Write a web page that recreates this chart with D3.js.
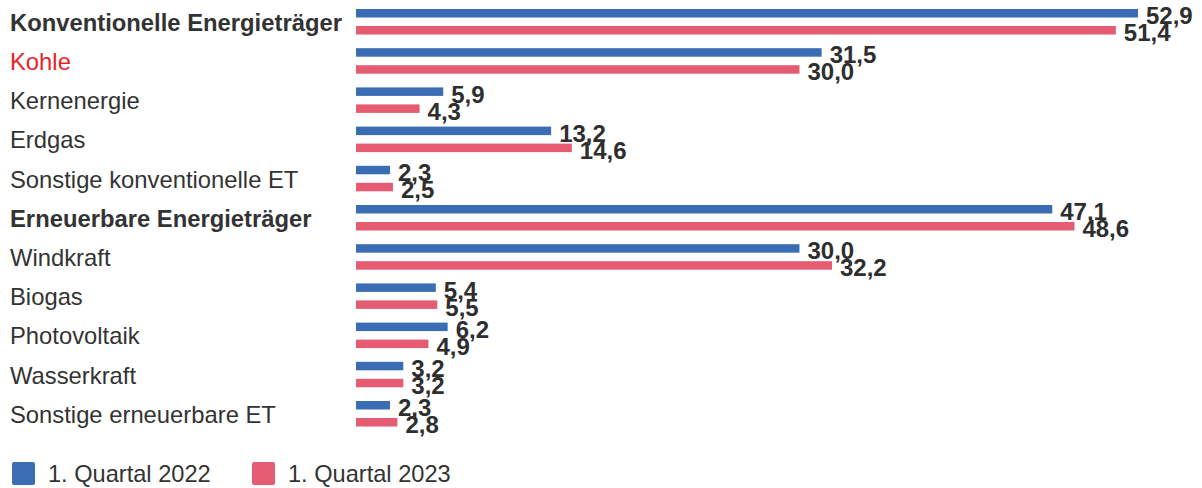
<!DOCTYPE html>
<html>
<head>
<meta charset="utf-8">
<script src="https://cdn.jsdelivr.net/npm/d3@7"></script>
<style>
  body { margin: 0; background: #fff; }
  text { font-family: "Liberation Sans", Arial, Helvetica, sans-serif; fill: #333; }
</style>
</head>
<body>
<svg width="1202" height="488"></svg>
<script>
var categories = ["Konventionelle Energieträger", "Kohle", "Kernenergie", "Erdgas",
  "Sonstige konventionelle ET", "Erneuerbare Energieträger", "Windkraft", "Biogas",
  "Photovoltaik", "Wasserkraft", "Sonstige erneuerbare ET"];
var q2022 = [52.9, 31.5, 5.9, 13.2, 2.3, 47.1, 30.0, 5.4, 6.2, 3.2, 2.3];
var q2023 = [51.4, 30.0, 4.3, 14.6, 2.5, 48.6, 32.2, 5.5, 4.9, 3.2, 2.8];
var boldRows = ["Konventionelle Energieträger", "Erneuerbare Energieträger"];
var redRows = ["Kohle"];
var seriesNames = ["1. Quartal 2022", "1. Quartal 2023"];
var colors = ["#3a6db4", "#e45b72"];

var svg = d3.select("svg");
var step = 39.2, barH = 8.5, pinkOff = 17;

var xScale = d3.scaleLinear().domain([0, 52.9]).range([356, 1138]);
var yScale = d3.scaleBand().domain(categories).range([9, 9 + step * categories.length]).padding(0);

var fmt = function(v) { return d3.format(".1f")(v).replace(".", ","); };

var rows = svg.selectAll(".row")
  .data(categories)
  .enter().append("g")
  .attr("class", "row")
  .attr("transform", function(d) { return "translate(0," + yScale(d) + ")"; });

// category labels
rows.append("text")
  .attr("x", 10)
  .attr("y", barH / 2 + pinkOff / 2 + 9)
  .style("font-size", "23.8px")
  .style("font-weight", function(d) { return boldRows.indexOf(d) >= 0 ? "bold" : "normal"; })
  .style("fill", function(d) { return redRows.indexOf(d) >= 0 ? "#e8242a" : "#333"; })
  .text(function(d) { return d; });

var series = [q2022, q2023];
series.forEach(function(vals, s) {
  rows.append("rect")
    .attr("x", xScale(0))
    .attr("y", s * pinkOff)
    .attr("height", barH)
    .attr("width", function(d, i) { return xScale(vals[i]) - xScale(0); })
    .attr("fill", colors[s]);

  rows.append("text")
    .attr("x", function(d, i) { return xScale(vals[i]) + 8; })
    .attr("y", s * pinkOff + barH / 2 + 11)
    .style("font-size", "24px")
    .style("font-weight", "bold")
    .style("fill", "#2e2e2e")
    .text(function(d, i) { return fmt(vals[i]); });
});

// legend
var legend = svg.append("g").attr("transform", "translate(12,462)");
var lg = legend.selectAll("g")
  .data(seriesNames)
  .enter().append("g")
  .attr("transform", function(d, i) { return "translate(" + (i * 240) + ",0)"; });
lg.append("rect")
  .attr("width", 23).attr("height", 23).attr("rx", 2)
  .attr("fill", function(d, i) { return colors[i]; });
lg.append("text")
  .attr("x", 36).attr("y", 20)
  .style("font-size", "23.6px")
  .text(function(d) { return d; });
</script>
</body>
</html>
